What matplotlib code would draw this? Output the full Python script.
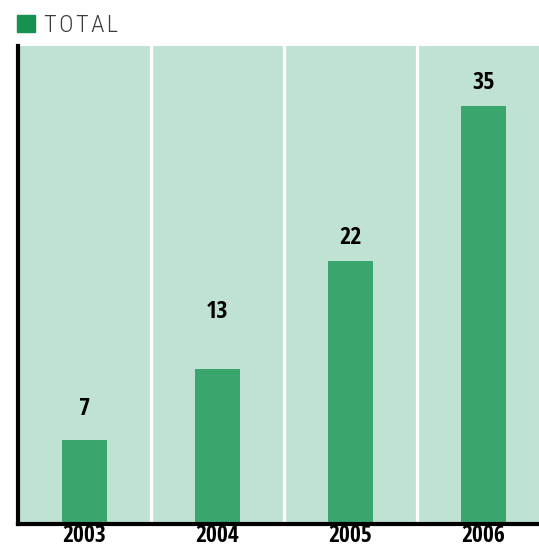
import matplotlib
matplotlib.use("Agg")
import matplotlib.pyplot as plt
from matplotlib.patches import Rectangle

years = ["2003", "2004", "2005", "2006"]
totals = [7, 13, 22, 35]
label_offsets = [14, 32, 8, 8]  # points above bar top, as in the original

bg_color = "#c0e2d2"
bar_color = "#3aa66e"
legend_color = "#15924f"
bold_font = "Open Sans Condensed"
light_font = "Roboto Condensed"

W, H = 539, 544
fig = plt.figure(figsize=(W / 100, H / 100), dpi=100)

# axes in pixel terms: left 18, right 550 (clipped by figure), top 46, bottom 524
left, right, top, bottom = 18, 550, 46, 524
ax = fig.add_axes([left / W, 1 - bottom / H, (right - left) / W, (bottom - top) / H])
ax.set_facecolor(bg_color)

x = range(len(years))
ax.bar(x, totals, width=0.34, color=bar_color, zorder=2)

for xi in [0.5, 1.5, 2.5]:
    ax.axvline(xi, color="white", lw=2.4, zorder=1)

for xi, v, off in zip(x, totals, label_offsets):
    ax.annotate(str(v), (xi, v), xytext=(0, off), textcoords="offset points",
                ha="center", va="bottom", fontsize=17.5, fontweight="bold",
                family=bold_font, color="black")

ax.set_xlim(-0.5, 3.5)
ax.set_ylim(0, 40)
ax.set_yticks([])
ax.set_xticks(list(x))
ax.set_xticklabels(years, fontsize=17, fontweight="bold", family=bold_font)
ax.tick_params(axis="x", length=0, pad=0)

for s in ["top", "right"]:
    ax.spines[s].set_visible(False)
ax.spines["left"].set_linewidth(3)
ax.spines["bottom"].set_linewidth(3)
ax.spines["left"].set_zorder(3)
ax.spines["bottom"].set_zorder(3)

# legend
fig.patches.append(Rectangle((17 / W, 1 - 32 / H), 18 / W, 17 / H,
                             transform=fig.transFigure, color=legend_color))
fig.text(44 / W, 1 - 25 / H, "T\u200aO\u200aT\u200aA\u200aL", fontsize=17.5,
         family=[light_font, "DejaVu Sans"], fontweight="light", color="#3a3a3a",
         va="center", ha="left")

fig.savefig("out.png", dpi=100)
